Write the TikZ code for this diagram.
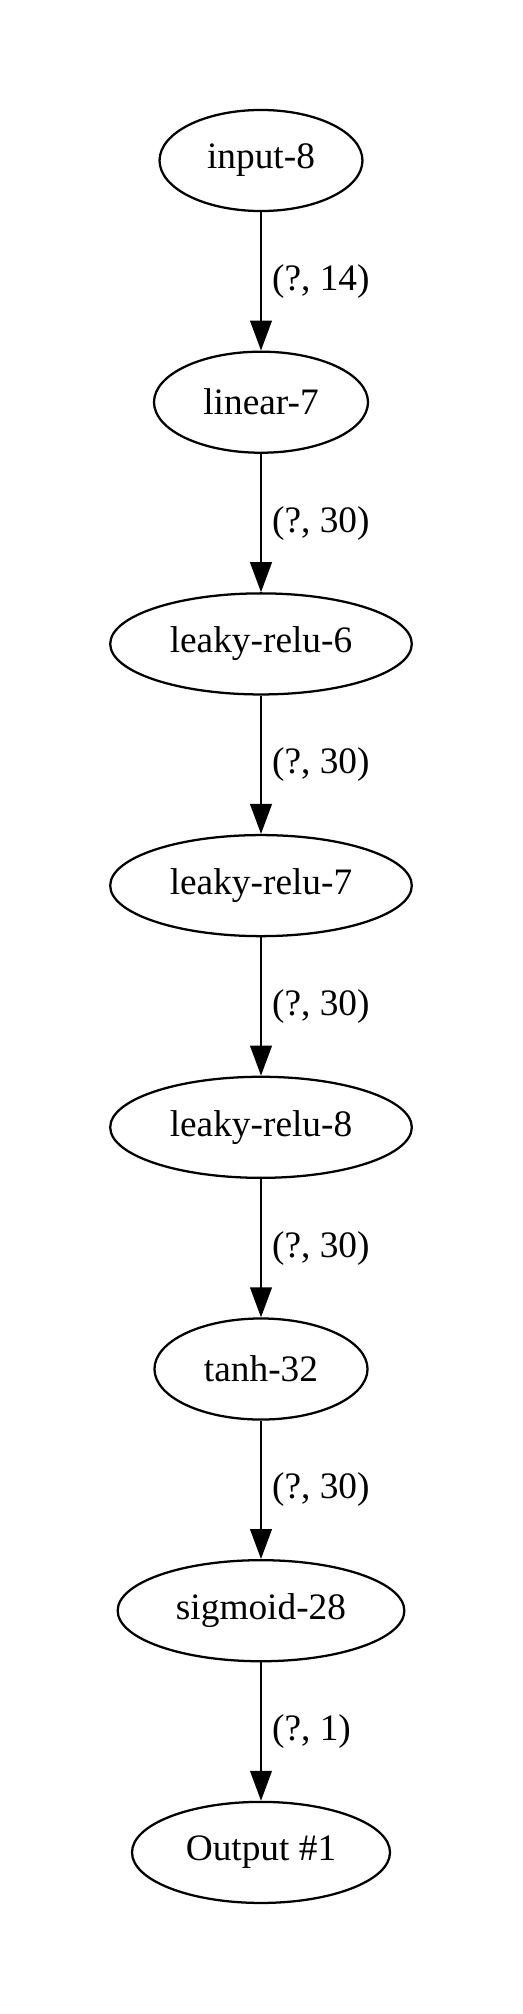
\documentclass[tikz,border=0pt]{standalone}
\usepackage{fontspec}
\setmainfont{Liberation Serif}
\usetikzlibrary{shapes.geometric}
\usetikzlibrary{arrows.meta}

\begin{document}
\begin{tikzpicture}[
        x=0.375pt, y=-0.375pt,
        layer/.style={ellipse, draw=black, line width=.85pt, inner sep=0pt,
            minimum height=37.9pt, font=\fontsize{14}{16}\selectfont},
        flow/.style={line width=.85pt, -{Triangle[length=11.25pt, width=8.1pt]}},
        shp/.style={font=\fontsize{14}{16}\selectfont, right, inner sep=0pt, xshift=3.75pt},
    ]
    \useasboundingbox (0,0) rectangle (523,2014);

    % one ellipse per layer: name, row, width (pt), text
    \foreach \n/\r/\w/\t in {in8/0/76.1/input-8, lin7/1/80.25/linear-7,
            lr6/2/113.1/leaky-relu-6, lr7/3/113.1/leaky-relu-7, lr8/4/113.1/leaky-relu-8,
            th32/5/79.9/tanh-32, sg28/6/107.5/sigmoid-28, out1/7/96.75/Output \#1}{
        \node[layer, minimum width=\w pt] (\n) at (261, 160.5+241.7*\r) {\t};
    }

    % edges, labelled with the tensor shape
    \foreach \a/\b/\s in {in8/lin7/14, lin7/lr6/30, lr6/lr7/30, lr7/lr8/30,
            lr8/th32/30, th32/sg28/30, sg28/out1/1}{
        \draw[flow] (\a) -- node[shp] {(?, \s)} (\b);
    }
\end{tikzpicture}
\end{document}
